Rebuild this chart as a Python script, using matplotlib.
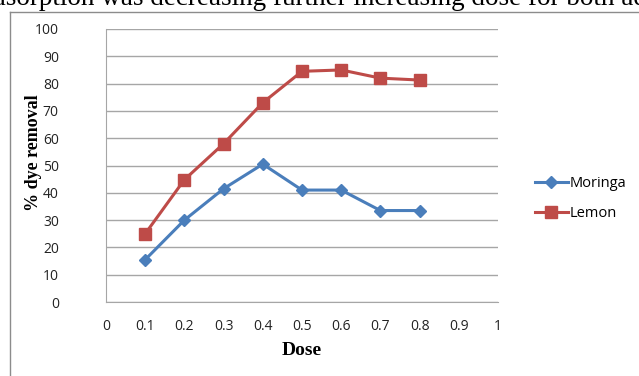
import matplotlib.pyplot as plt
from matplotlib.lines import Line2D

dose = [0.1, 0.2, 0.3, 0.4, 0.5, 0.6, 0.7, 0.8]
moringa = [15.5, 30.0, 41.5, 50.5, 41.0, 41.0, 33.5, 33.5]
lemon = [25.0, 44.8, 58.0, 73.0, 84.5, 85.0, 82.0, 81.3]
x_ticks = [0, 0.1, 0.2, 0.3, 0.4, 0.5, 0.6, 0.7, 0.8, 0.9, 1]
y_ticks = list(range(0, 101, 10))

tick_font = 'Open Sans'
serif = 'Liberation Serif'

fig = plt.figure(figsize=(6.39, 3.76), dpi=100)
fig.patch.set_facecolor('white')

# running text of the page, cut at the top edge
fig.text(-20 / 639, 1.0 - 5 / 376, 'adsorption was decreasing further increasing dose for both adsorbents',
         family=serif, fontsize=19.5, ha='left', va='baseline', color='black')

# chart frame
fig.add_artist(Line2D([10 / 639, 10 / 639], [0, 1 - 12 / 376], transform=fig.transFigure,
                      color='#8c8c8c', lw=1.0))
fig.add_artist(Line2D([10 / 639, 1], [1 - 12 / 376, 1 - 12 / 376], transform=fig.transFigure,
                      color='#8c8c8c', lw=1.0))

ax = fig.add_axes([106 / 639, 1 - 302 / 376, 392 / 639, 273 / 376])
ax.plot(dose, moringa, color='#4a7ebb', lw=2.2, marker='D', ms=6.5, label='Moringa')
ax.plot(dose, lemon, color='#be4b48', lw=2.2, marker='s', ms=8, label='Lemon')

ax.set_xlim(0, 1)
ax.set_ylim(0, 100)
ax.set_xticks(x_ticks)
ax.set_xticklabels([f'{v:g}' for v in x_ticks])
ax.set_yticks(y_ticks)
ax.yaxis.grid(True, color='#a6a6a6', lw=1.0)
ax.set_axisbelow(True)
for side in ['top', 'right']:
    ax.spines[side].set_visible(False)
for side in ['left', 'bottom']:
    ax.spines[side].set_color('#a6a6a6')
ax.tick_params(length=0, labelsize=10, colors='#222222', pad=12)
ax.tick_params(axis='y', pad=34)
for lab in ax.get_xticklabels() + ax.get_yticklabels():
    lab.set_family(tick_font)

ax.set_xlabel('Dose', family=serif, fontweight='bold', fontsize=14, labelpad=6)
ax.set_ylabel('% dye removal', family=serif, fontweight='bold', fontsize=13)
ax.yaxis.set_label_coords(-0.163, 0.546)

leg = ax.legend(loc='center left', bbox_to_anchor=(1.06, 0.378), frameon=False,
                prop={'family': tick_font, 'size': 10.5}, handlelength=2.3,
                labelspacing=1.05, handletextpad=0.1)

fig.savefig('out.png', dpi=100, facecolor='white')
